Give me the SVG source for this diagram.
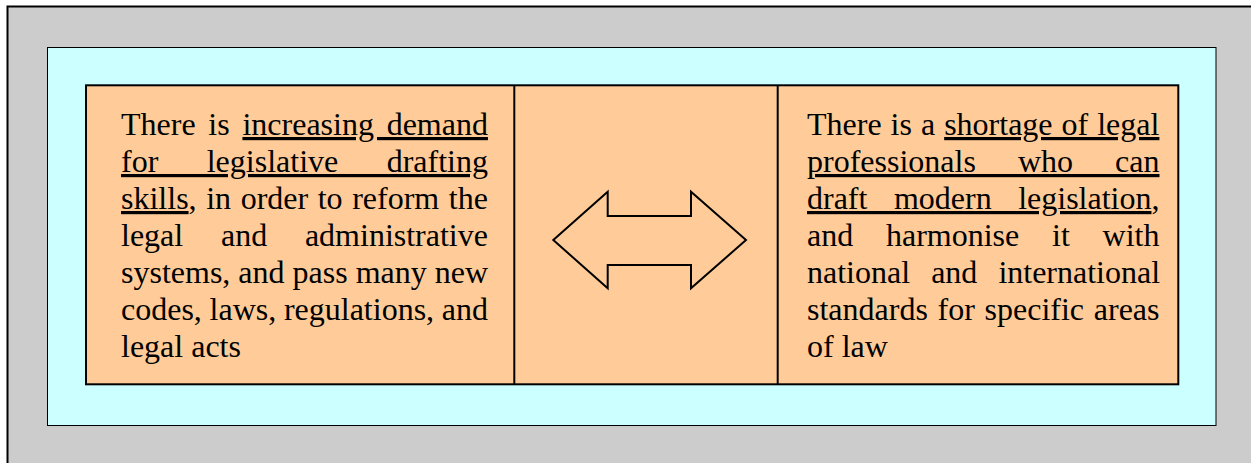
<svg xmlns="http://www.w3.org/2000/svg" width="1251" height="463" viewBox="0 0 1251 463">
<style>
.t{font-family:"Liberation Serif","Times New Roman",serif;font-size:32px;fill:#000}
.u{text-decoration:underline}
</style>
<g id="background">
<rect x="7.5" y="6.5" width="1260" height="470" fill="#cccccc" stroke="#000" stroke-width="2"/>
<rect x="47.5" y="47.5" width="1168.5" height="378" fill="#ccffff" stroke="#000" stroke-width="1"/>
</g>
<g id="table">
<rect x="86" y="85.3" width="1092.3" height="299" fill="#ffcc99" stroke="#000" stroke-width="2"/>
<line x1="514.3" y1="85.3" x2="514.3" y2="384.3" stroke="#000" stroke-width="2"/>
<line x1="777.7" y1="85.3" x2="777.7" y2="384.3" stroke="#000" stroke-width="2"/>
</g>
<g id="node-demand">
<text class="t" x="121" y="135" style="word-spacing:4.73px">There is <tspan class="u">increasing demand</tspan></text>
<text class="t" x="121" y="172" style="word-spacing:40.4px"><tspan class="u">for legislative drafting</tspan></text>
<text class="t" x="121" y="209" style="word-spacing:1.58px"><tspan class="u">skills</tspan>, in order to reform the</text>
<text class="t" x="121" y="246" style="word-spacing:29.75px">legal and administrative</text>
<text class="t" x="121" y="283">systems, and pass many new</text>
<text class="t" x="121" y="320" style="word-spacing:-0.3px">codes, laws, regulations, and</text>
<text class="t" x="121" y="357">legal acts</text>
</g>
<g id="node-shortage">
<text class="t" x="807" y="135" style="word-spacing:1px">There is a <tspan class="u">shortage of legal</tspan></text>
<text class="t" x="807" y="172" style="word-spacing:34.05px"><tspan class="u">professionals who can</tspan></text>
<text class="t" x="807" y="209" style="word-spacing:18.5px"><tspan class="u">draft modern legislation</tspan>,</text>
<text class="t" x="807" y="246" style="word-spacing:24.77px">and harmonise it with</text>
<text class="t" x="807" y="283" style="word-spacing:13.05px">national and international</text>
<text class="t" x="807" y="320" style="word-spacing:1.7px">standards for specific areas</text>
<text class="t" x="807" y="357">of law</text>
</g>
<g id="connectors">
<polygon points="553.3,240 607.7,191.7 607.7,216 691,216 691,191.7 746,240 691,288.3 691,265 607.7,265 607.7,288.3" fill="#ffcc99" stroke="#000" stroke-width="2"/>
</g>
</svg>
